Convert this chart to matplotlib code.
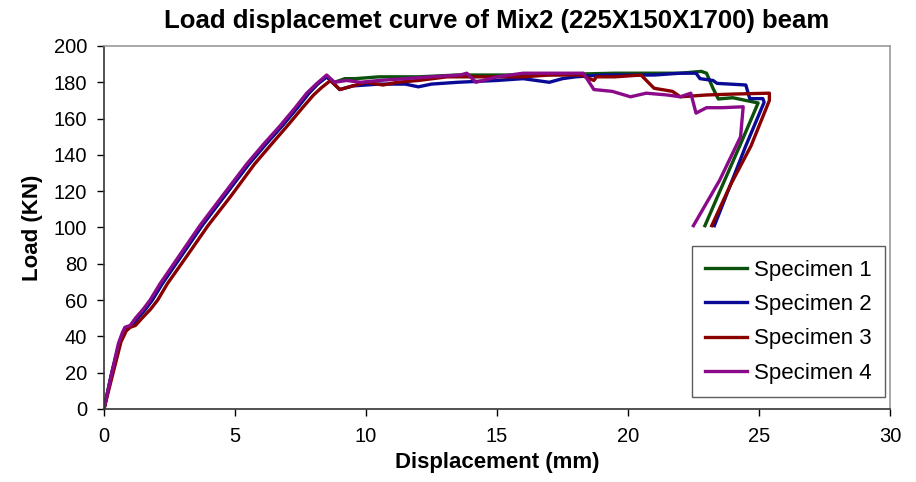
import matplotlib
matplotlib.use("Agg")
import matplotlib.pyplot as plt

plt.rcParams['font.family'] = ['Liberation Sans', 'DejaVu Sans']

x1 = [0, 0.3, 0.6, 0.78, 0.9, 1.08, 1.28, 1.58, 1.84, 2.22, 2.98, 3.74, 4.58, 5.53, 6.18, 6.8,
      7.38, 7.82, 8.15, 8.5, 8.8, 9.2, 9.6, 10.5, 12.0, 13.5, 15.0, 16.5, 18.0, 19.5, 21.0,
      22.0, 22.8, 23.0, 23.25, 23.45, 24.0, 24.97, 24.3, 23.6, 22.94]
y1 = [0, 20, 37, 43, 45, 46, 50, 55, 60, 69, 85, 101, 117, 135, 146, 156,
      166, 174, 179, 183, 180, 182, 182, 183, 183, 184, 184, 184, 184.5, 185, 185,
      185, 186, 185, 176.6, 170.8, 171.5, 168.6, 146, 123, 101]

x2 = [0, 0.3, 0.6, 0.78, 0.9, 1.08, 1.28, 1.58, 1.84, 2.22, 2.98, 3.74, 4.58, 5.53, 6.18, 6.8,
      7.38, 7.82, 8.15, 8.5, 9.0, 9.5, 10.5, 11.5, 12.0, 12.5, 13.5, 15.0, 16.0, 17.0, 17.5,
      18.0, 19.0, 20.0, 21.0, 22.0, 22.6, 22.75, 23.25, 23.4, 24.5, 24.65, 25.15, 25.2,
      24.5, 23.9, 23.3]
y2 = [0, 20, 37, 43, 45, 46, 50, 55, 60, 69, 85, 101, 117, 135, 146, 156,
      166, 174, 179, 183, 176, 178, 179, 179, 177.5, 179, 180, 181, 182, 180, 182,
      183, 184, 184, 184, 185, 185, 182, 181, 179.4, 178.5, 171, 171, 169,
      145, 123, 101]

x3 = [0, 0.35, 0.65, 0.85, 1.0, 1.2, 1.45, 1.78, 2.05, 2.42, 3.2, 3.97, 4.83, 5.75, 6.4, 7.0,
      7.58, 8.0, 8.3, 8.65, 9.0, 9.5, 10.0, 10.65, 11.2, 12.0, 13.1, 14.5, 16.0, 17.0, 18.2,
      18.7, 18.8, 19.5, 20.5, 20.8, 21.0, 21.7, 22.0, 23.0, 24.0, 25.4, 25.4, 24.7, 23.9, 23.2]
y3 = [0, 20, 37, 43, 45, 46, 50, 55, 60, 69, 85, 101, 117, 135, 146, 156,
      166, 173, 177, 181, 176, 178, 180, 178.5, 180, 181, 183, 183, 183, 184, 184,
      181, 183, 183, 184, 179.6, 176.7, 175, 172, 173, 173.5, 174, 170, 145, 123, 101]

x4 = [0, 0.3, 0.55, 0.7, 0.8, 1.0, 1.2, 1.5, 1.76, 2.14, 2.9, 3.66, 4.5, 5.45, 6.1, 6.72,
      7.3, 7.74, 8.1, 8.5, 8.8, 9.26, 9.8, 10.5, 11.5, 12.5, 13.6, 13.85, 14.2, 15.0, 16.0,
      17.0, 18.3, 18.7, 19.4, 20.1, 20.7, 21.5, 22.0, 22.4, 22.6, 23.0, 23.6, 24.4, 24.3,
      23.5, 22.5]
y4 = [0, 20, 36, 42, 45, 46, 50, 55, 60, 69, 85, 101, 117, 135, 146, 156,
      166, 174, 179, 184, 180, 181, 180, 181, 182, 183, 184, 185, 180, 183, 185,
      185, 185, 176, 175, 172, 174, 173, 172, 174, 163, 166, 166, 166.5, 150,
      126, 101]

labels = ["Specimen 1", "Specimen 2", "Specimen 3", "Specimen 4"]
colors = ["#0b500b", "#0a0a96", "#8a0000", "#8a0a8a"]

fig = plt.figure(figsize=(9.16, 4.82), dpi=100)
ax = fig.add_axes([0.1135, 0.1515, 0.858, 0.7531])

for xs, ys, lab, c in zip([x1, x2, x3, x4], [y1, y2, y3, y4], labels, colors):
    ax.plot(xs, ys, color=c, lw=2.4, label=lab)

ax.set_xlim(0, 30)
ax.set_ylim(0, 200)
ax.set_xticks(range(0, 31, 5))
ax.set_yticks(range(0, 201, 20))
ax.tick_params(labelsize=14.5, length=5, width=1, direction='out')
ax.tick_params(axis='x', pad=8)
ax.tick_params(axis='y', pad=7)
for s in ['left', 'bottom']:
    ax.spines[s].set_color('#333333')
    ax.spines[s].set_linewidth(1.2)
for s in ['top', 'right']:
    ax.spines[s].set_color('#999999')
    ax.spines[s].set_linewidth(1.2)

ax.set_title("Load displacemet curve of Mix2 (225X150X1700) beam", fontsize=18.5,
             fontweight='bold', pad=13)
ax.set_xlabel("Displacement (mm)", fontsize=16, fontweight='bold', labelpad=4)
ax.set_ylabel("Load (KN)", fontsize=16, fontweight='bold', labelpad=8)

leg = ax.legend(loc='lower right', bbox_to_anchor=(0.9936, 0.033), fontsize=16,
                frameon=True, fancybox=False, edgecolor='#333333', handlelength=1.9,
                handletextpad=0.3, borderpad=0.6, labelspacing=0.6, borderaxespad=0)
leg.get_frame().set_linewidth(1.0)

fig.savefig("out.png", dpi=100)
